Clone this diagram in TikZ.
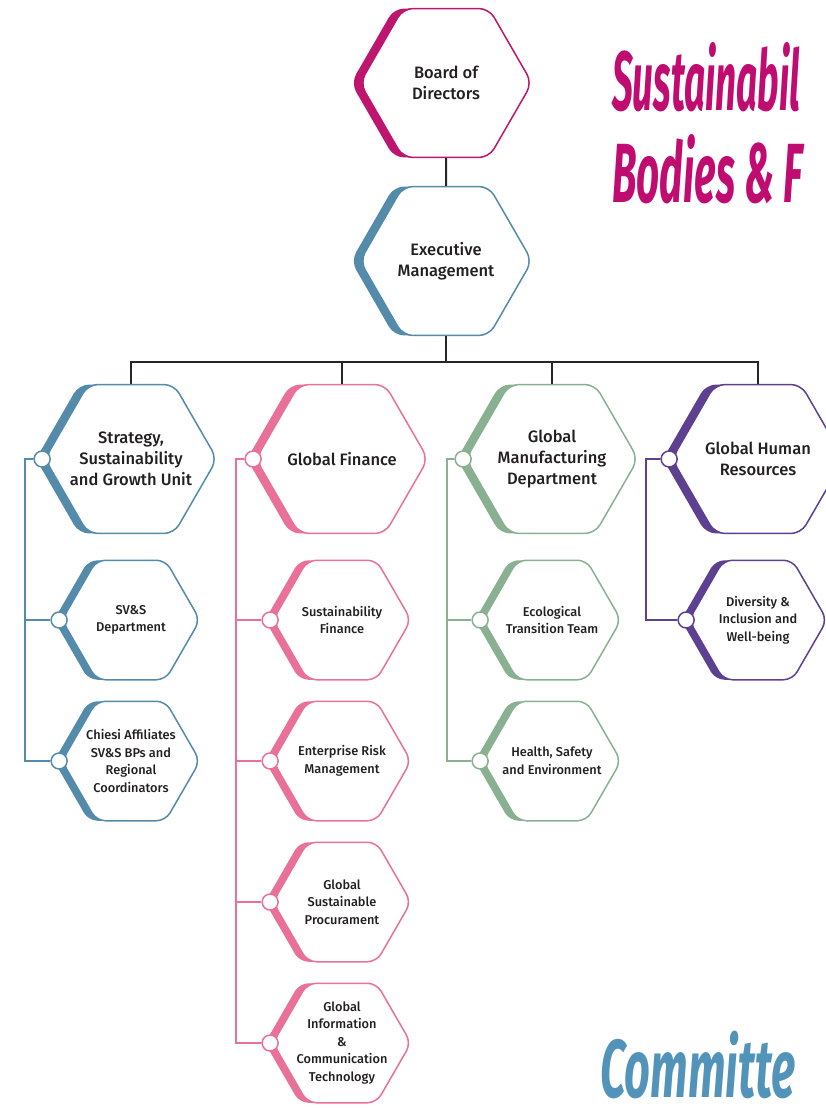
\documentclass[tikz,border=0pt]{standalone}
\usepackage{fontspec}
\setmainfont{Fira Sans}[UprightFont=* Medium, BoldFont=* Bold]
\usetikzlibrary{shapes.geometric,shadows}

\definecolor{boardmag}{RGB}{190,22,110}
\definecolor{unitblue}{RGB}{84,138,170}
\definecolor{finpink}{RGB}{233,112,152}
\definecolor{manugreen}{RGB}{138,176,146}
\definecolor{hrpurple}{RGB}{94,64,145}
\definecolor{titlemag}{RGB}{192,12,112}
\definecolor{commblue}{RGB}{82,148,185}
\definecolor{textgray}{RGB}{35,31,32}

\tikzset{
  hexbig/.style={regular polygon, regular polygon sides=6, minimum size=172pt,
    inner sep=-45pt, draw=#1, fill=white, line width=1.5pt, rounded corners=10pt,
    align=center, text=textgray, font=\fontsize{16.5}{21}\selectfont,
    general shadow={fill=#1, shadow xshift=-9pt, shadow yshift=0pt}},
  hexsmall/.style={regular polygon, regular polygon sides=6, minimum size=138pt,
    inner sep=-45pt, draw=#1, fill=white, line width=1.5pt, rounded corners=9pt,
    align=center, text=textgray, font=\fontsize{12.8}{17.5}\selectfont,
    general shadow={fill=#1, shadow xshift=-8pt, shadow yshift=0pt}},
  joint/.style={circle, draw=#1, fill=white, line width=1.5pt,
    minimum size=16pt, inner sep=0pt},
  conn/.style={draw=black!85, line width=2pt},
  colline/.style={draw=#1, line width=1.8pt},
}

\begin{document}
\begin{tikzpicture}[x=1pt,y=-1pt]
  \useasboundingbox (0,0) rectangle (826,1108);

  % titles
  \node[anchor=base west, text=titlemag, xscale=0.44, inner sep=0pt,
    font=\fontsize{84}{84}\selectfont\bfseries\itshape] (title1) at (612,110) {Sustainabil};
  \node[anchor=base west, text=titlemag, xscale=0.48, inner sep=0pt,
    font=\fontsize{84}{84}\selectfont\bfseries\itshape] (title2) at (612,202) {Bodies \& F};
  \node[anchor=base west, text=commblue, xscale=0.55, inner sep=0pt,
    font=\fontsize{82}{82}\selectfont\bfseries\itshape] (title3) at (600,1097) {Committe};

  % top
  \node[hexbig=boardmag] (board) at (446,83) {Board of\\Directors};
  \node[hexbig=unitblue] (exec) at (446,261) {Executive\\Management};
  \draw[conn] (board) -- (exec);

  % the four units
  \node[hexbig=unitblue] (strat) at (131,459) {Strategy,\\Sustainability\\and Growth Unit};
  \node[hexbig=finpink] (fin) at (342,459) {Global Finance};
  \node[hexbig=manugreen] (manu) at (552,459) {Global\\Manufacturing\\Department};
  \node[hexbig=hrpurple] (hr) at (758,459) {Global Human\\Resources};

  \coordinate (bus) at (446,362);
  \draw[conn] (exec) -- (bus);
  \draw[conn] (strat.north) |- (bus) -| (hr.north);
  \draw[conn] (fin.north) -- (fin.north |- bus);
  \draw[conn] (manu.north) -- (manu.north |- bus);

  % functions
  \node[hexsmall=unitblue] (svs) at (131,620) {SV\&S\\Department};
  \node[hexsmall=unitblue] (chiesi) at (131,761) {Chiesi Affiliates\\SV\&S BPs and\\Regional\\Coordinators};
  \node[hexsmall=finpink] (sfin) at (342,620) {Sustainability\\Finance};
  \node[hexsmall=finpink] (erm) at (342,761) {Enterprise Risk\\Management};
  \node[hexsmall=finpink] (proc) at (342,902) {Global\\Sustainable\\Procurament};
  \node[hexsmall=finpink] (ict) at (342,1043) {Global\\Information\\\&\\Communication\\Technology};
  \node[hexsmall=manugreen] (eco) at (552,620) {Ecological\\Transition Team};
  \node[hexsmall=manugreen] (hse) at (552,761) {Health, Safety\\and Environment};
  \node[hexsmall=hrpurple] (dei) at (758,620) {Diversity \&\\Inclusion and\\Well-being};

  % joints
  \foreach \n/\c in {strat/unitblue, svs/unitblue, chiesi/unitblue,
      fin/finpink, sfin/finpink, erm/finpink, proc/finpink, ict/finpink,
      manu/manugreen, eco/manugreen, hse/manugreen, hr/hrpurple, dei/hrpurple}
    \node[joint=\c] (\n-j) at ([xshift=-2pt]\n.west) {};

  % side lines
  \coordinate (strat-l) at (25,459);
  \coordinate (fin-l) at (236,459);
  \coordinate (manu-l) at (447,459);
  \coordinate (hr-l) at (646,459);
  \draw[colline=unitblue] (strat-j) -- (strat-l) |- (chiesi-j);
  \draw[colline=unitblue] (strat-l) |- (svs-j);
  \draw[colline=finpink] (fin-j) -- (fin-l) |- (ict-j);
  \draw[colline=finpink] (fin-l) |- (sfin-j);
  \draw[colline=finpink] (fin-l) |- (erm-j);
  \draw[colline=finpink] (fin-l) |- (proc-j);
  \draw[colline=manugreen] (manu-j) -- (manu-l) |- (hse-j);
  \draw[colline=manugreen] (manu-l) |- (eco-j);
  \draw[colline=hrpurple] (hr-j) -- (hr-l) |- (dei-j);
\end{tikzpicture}
\end{document}
